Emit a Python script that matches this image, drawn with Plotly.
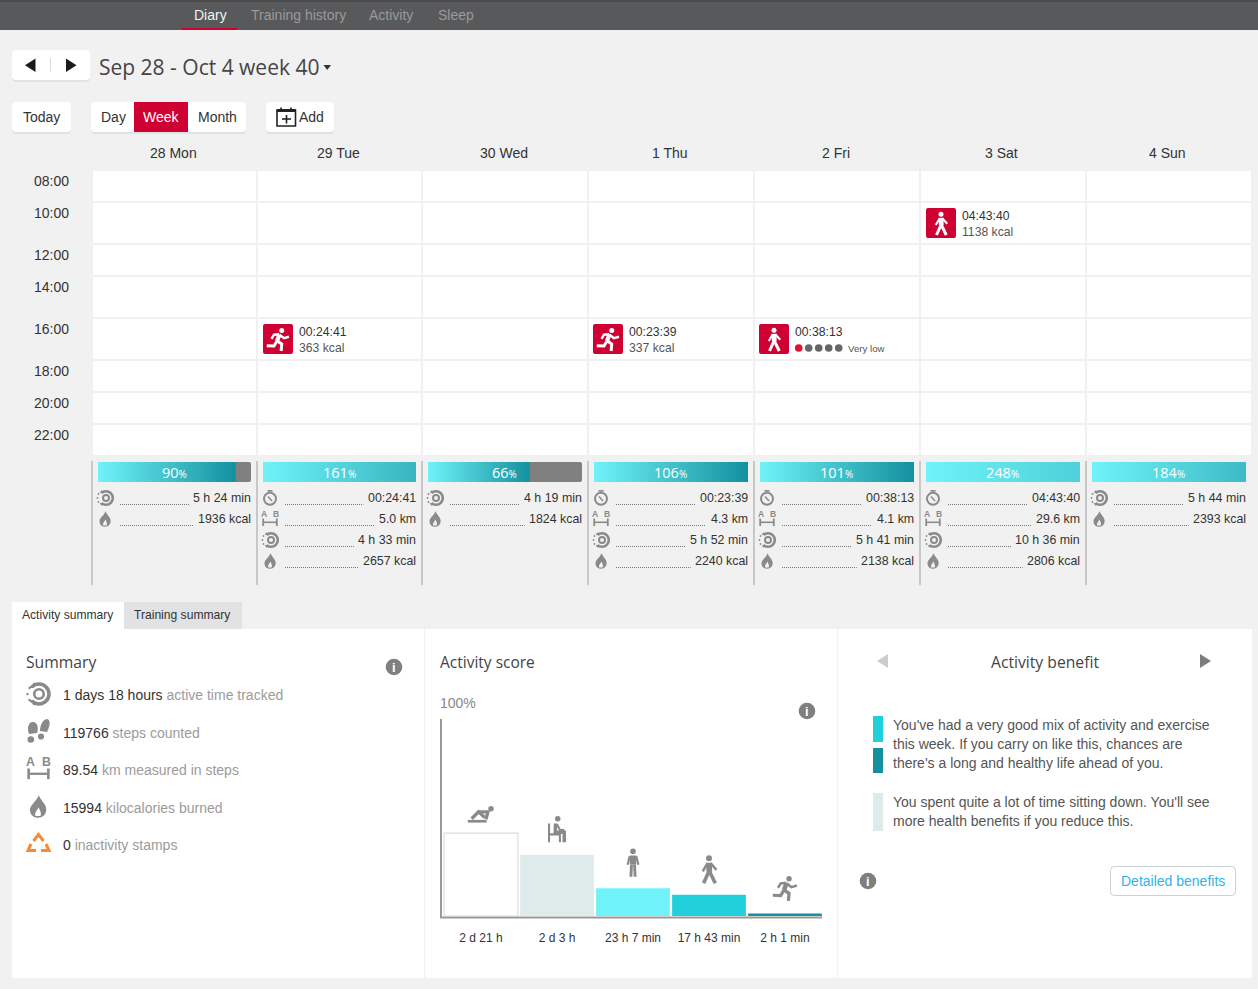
import plotly.graph_objects as go

# week data
day_labels = ['28 Mon', '29 Tue', '30 Wed', '1 Thu', '2 Fri', '3 Sat', '4 Sun']
time_labels = ['08:00', '10:00', '12:00', '14:00', '16:00', '18:00', '20:00', '22:00']
goal_percent = [90, 161, 66, 106, 101, 248, 184]

training_time = [None, '00:24:41', None, '00:23:39', '00:38:13', '04:43:40', None]
distance_km = [None, '5.0 km', None, '4.3 km', '4.1 km', '29.6 km', None]
active_time = ['5 h 24 min', '4 h 33 min', '4 h 19 min', '5 h 52 min', '5 h 41 min', '10 h 36 min', '5 h 44 min']
calories = ['1936 kcal', '2657 kcal', '1824 kcal', '2240 kcal', '2138 kcal', '2806 kcal', '2393 kcal']

event_days = [1, 3, 4, 5]
event_rows = [4, 4, 4, 1]
event_kinds = ['run', 'run', 'walk', 'walk']
event_times = ['00:24:41', '00:23:39', '00:38:13', '04:43:40']
event_details = ['363 kcal', '337 kcal', None, '1138 kcal']

# activity score, hours out of a 168 h week
score_labels = ['2 d 21 h', '2 d 3 h', '23 h 7 min', '17 h 43 min', '2 h 1 min']
score_hours = [69, 51, 23.12, 17.72, 2.02]
week_hours = 168

summary_values = ['1 days 18 hours', '119766', '89.54', '15994', '0']
summary_units = ['active time tracked', 'steps counted', 'km measured in steps', 'kilocalories burned', 'inactivity stamps']

benefit_lines = ["You've had a very good mix of activity and exercise", 'this week. If you carry on like this, chances are',
                 "there's a long and healthy life ahead of you."]
sitting_lines = ["You spent quite a lot of time sitting down. You'll see", 'more health benefits if you reduce this.']

W, H = 1258, 989
BG = '#f1f1f1'
RED = '#cf0032'
GREY = '#808080'
ICON = '#8a8a8a'
TEXT = '#333333'
ARIAL = 'Liberation Sans, Arial, sans-serif'
OPEN = 'Open Sans, sans-serif'
SCORE_COLORS = ['#ffffff', '#dfeaea', '#6ff3f9', '#22d0dc', '#14909e']
GAUGE_ENDS = ['#14909e', '#38b5c0', '#14909e', '#14909e', '#14909e', '#4fd0da', '#3cbbc7']
EVENT_INSET = [5, 4, 4, 5]

col_left = [93, 258, 423, 589, 755, 921, 1087]
col_right = [256, 421, 587, 753, 919, 1085, 1251]
row_top = [171, 203, 245, 277, 319, 361, 393, 425]
row_bottom = [201, 243, 275, 317, 359, 391, 423, 455]

shapes = []
notes = []


def rect(x0, y0, x1, y1, color, line=None, width=1):
    shapes.append(dict(type='rect', x0=x0, y0=y0, x1=x1, y1=y1, xref='x', yref='y', layer='below', fillcolor=color,
                       line=dict(color=line or color, width=width if line else 0)))


def rounded(x0, y0, x1, y1, color, r=3, line=None, width=1):
    d = (f'M {x0 + r},{y0} L {x1 - r},{y0} Q {x1},{y0} {x1},{y0 + r} L {x1},{y1 - r} Q {x1},{y1} {x1 - r},{y1} '
         f'L {x0 + r},{y1} Q {x0},{y1} {x0},{y1 - r} L {x0},{y0 + r} Q {x0},{y0} {x0 + r},{y0} Z')
    path(d, color, line, width)


def path(d, fill=None, line=None, width=1):
    shapes.append(dict(type='path', path=d, xref='x', yref='y', layer='below', fillcolor=fill or 'rgba(0,0,0,0)',
                       line=dict(color=line or 'rgba(0,0,0,0)', width=width if line else 0)))


def circle(cx, cy, r, fill=None, line=None, width=1, dash='solid'):
    shapes.append(dict(type='circle', x0=cx - r, y0=cy - r, x1=cx + r, y1=cy + r, xref='x', yref='y', layer='below',
                       fillcolor=fill or 'rgba(0,0,0,0)',
                       line=dict(color=line or 'rgba(0,0,0,0)', width=width if line else 0, dash=dash)))


def stroke(points, color, width):
    d = 'M ' + ' L '.join(f'{x},{y}' for x, y in points)
    path(d, None, color, width)


def label(x, y, text, size=12, color=TEXT, anchor='left', font=ARIAL):
    notes.append(dict(x=x, y=y, xref='x', yref='y', text=text, showarrow=False, xanchor=anchor, yanchor='middle',
                      borderpad=0, borderwidth=0, font=dict(size=size, color=color, family=font)))


def button(x0, y0, x1, y1):
    rounded(x0, y0 + 2, x1, y1 + 2, '#e2e2e2', 4)
    rounded(x0, y0, x1, y1, '#ffffff', 4)


def figure_icon(kind, cx, cy, s, color):
    pts = lambda items: [(cx + a * s, cy + b * s) for a, b in items]
    w = max(1.2, s * 0.24)
    if kind == 'run':
        circle(cx + 0.3 * s, cy - 0.72 * s, 0.2 * s, color)
        stroke(pts([(0.12, -0.4), (-0.08, 0.12)]), color, w * 1.4)
        stroke(pts([(-0.08, 0.1), (0.3, 0.36), (0.25, 0.92)]), color, w)
        stroke(pts([(-0.08, 0.12), (-0.32, 0.52), (-0.9, 0.5)]), color, w)
        stroke(pts([(0.12, -0.38), (0.48, -0.1), (0.88, -0.22)]), color, w * 0.8)
        stroke(pts([(0.1, -0.42), (-0.32, -0.38), (-0.52, -0.05)]), color, w * 0.8)
    elif kind == 'walk':
        circle(cx, cy - 0.75 * s, 0.2 * s, color)
        stroke(pts([(0, -0.45), (0.02, 0.15)]), color, w * 1.6)
        stroke(pts([(0, 0.12), (-0.36, 0.92)]), color, w)
        stroke(pts([(0.03, 0.12), (0.42, 0.92)]), color, w)
        stroke(pts([(-0.1, -0.42), (-0.42, 0.12)]), color, w * 0.7)
        stroke(pts([(0.1, -0.42), (0.5, 0.02)]), color, w * 0.7)
    elif kind == 'stand':
        circle(cx, cy - 0.78 * s, 0.19 * s, color)
        stroke(pts([(0, -0.5), (0, 0.1)]), color, w * 1.8)
        stroke(pts([(-0.1, 0.1), (-0.14, 0.92)]), color, w * 0.8)
        stroke(pts([(0.1, 0.1), (0.14, 0.92)]), color, w * 0.8)
        stroke(pts([(-0.22, -0.45), (-0.36, 0.12)]), color, w * 0.6)
        stroke(pts([(0.22, -0.45), (0.36, 0.12)]), color, w * 0.6)
    elif kind == 'sit':
        circle(cx + 0.05 * s, cy - 0.78 * s, 0.19 * s, color)
        stroke(pts([(-0.55, -0.45), (-0.55, 0.85)]), color, w * 0.6)
        stroke(pts([(-0.55, 0.3), (0.2, 0.3), (0.2, 0.85)]), color, w * 0.6)
        stroke(pts([(-0.1, -0.45), (-0.12, 0.15), (0.5, 0.15), (0.5, 0.85)]), color, w)
        stroke(pts([(0, -0.4), (0.2, 0), (0.5, 0)]), color, w * 0.6)
    else:
        circle(cx + 0.8 * s, cy - 0.5 * s, 0.22 * s, color)
        stroke(pts([(-1.05, 0.5), (0.45, 0.5)]), color, w * 0.9)
        stroke(pts([(-0.75, 0.3), (-0.2, -0.25), (0.3, 0.2)]), color, w * 1.1)
        stroke(pts([(-0.2, -0.25), (0.55, -0.25), (0.4, 0.35)]), color, w * 1.1)


def ring_icon(cx, cy, color=ICON):
    circle(cx + 1, cy, 6.8, None, color, 2.6)
    circle(cx + 1, cy, 3, None, color, 2)
    rect(cx - 8, cy - 5, cx - 3, cy + 5, BG)
    for dx, dy in [(-6.5, -4), (-7.5, 0), (-6.5, 4), (-3.5, -6.5), (-3.5, 6.5)]:
        circle(cx + dx, cy + dy, 0.9, color)


def watch_icon(cx, cy):
    circle(cx, cy + 0.7, 6, None, ICON, 2)
    rect(cx - 2.5, cy - 8, cx + 2.5, cy - 6.3, ICON)
    stroke([(cx - 2, cy - 1.5), (cx + 2, cy + 3)], ICON, 1.5)


def ab_icon(cx, cy, s=1.0):
    label(cx - 5.8 * s, cy - 5 * s, '<b>A</b>', 8.5 * s, ICON, 'center')
    label(cx + 5.8 * s, cy - 5 * s, '<b>B</b>', 8.5 * s, ICON, 'center')
    stroke([(cx - 6.8 * s, cy - 0.5), (cx - 6.8 * s, cy + 7 * s)], ICON, 1.8 * s)
    stroke([(cx + 6.8 * s, cy - 0.5), (cx + 6.8 * s, cy + 7 * s)], ICON, 1.8 * s)
    stroke([(cx - 6 * s, cy + 3.3 * s), (cx + 6 * s, cy + 3.3 * s)], ICON, 1.6 * s)


def flame_icon(cx, cy, s=1.1, inner=BG):
    path(f'M {cx + 0.5 * s},{cy - 7 * s} C {cx + 2 * s},{cy - 3 * s} {cx + 6 * s},{cy - 1 * s} {cx + 5 * s},{cy + 3 * s} '
         f'C {cx + 4.5 * s},{cy + 6 * s} {cx + 2 * s},{cy + 7 * s} {cx},{cy + 7 * s} '
         f'C {cx - 3 * s},{cy + 7 * s} {cx - 5 * s},{cy + 5 * s} {cx - 5 * s},{cy + 2 * s} '
         f'C {cx - 5 * s},{cy - 1 * s} {cx - 1 * s},{cy - 3 * s} {cx + 0.5 * s},{cy - 7 * s} Z', ICON)
    path(f'M {cx + 0.5 * s},{cy + 0.5 * s} C {cx + 1 * s},{cy + 2.5 * s} {cx + 2.5 * s},{cy + 4 * s} {cx + 1.5 * s},{cy + 6 * s} '
         f'L {cx - 1.5 * s},{cy + 6 * s} C {cx - 2.5 * s},{cy + 4 * s} {cx - 0.5 * s},{cy + 2.5 * s} {cx + 0.5 * s},{cy + 0.5 * s} Z', inner)


def info_icon(cx, cy):
    circle(cx, cy, 8.3, '#7f7f7f')
    label(cx, cy, '<b>i</b>', 13, '#ffffff', 'center')


def text_width(s):
    widths = {' ': 3.33, ':': 3.33, '.': 3.33, 'k': 6, 'c': 6, 'a': 6.67, 'l': 2.67, 'm': 10, 'i': 2.67, 'n': 6.67, 'h': 6.67}
    return sum(widths.get(ch, 6.67) for ch in s)


# header
rect(0, 0, W, 30, '#58595b')
rect(0, 0, W, 2, '#4a4a4c')
rect(182, 28, 237, 30, RED)
label(210, 15, 'Diary', 14, '#f2f2f2', 'center')
label(298, 15, 'Training history', 14, '#9a9a9a', 'center')
label(391, 15, 'Activity', 14, '#9a9a9a', 'center')
label(456, 15, 'Sleep', 14, '#9a9a9a', 'center')

# week selector and view buttons
button(12, 50, 90, 80)
path('M 35.5,58.5 L 35.5,72 L 25,65.2 Z', '#1a1a1a')
path('M 66,58.5 L 66,72 L 76.5,65.2 Z', '#1a1a1a')
rect(50, 58, 51, 72, '#dddddd')
label(98.5, 66.5, 'Sep 28 - Oct 4 week 40', 21, '#444444', font=OPEN)
path('M 323.5,65 L 331,65 L 327.2,70 Z', '#333333')
button(12, 102, 71, 132)
label(41.5, 117, 'Today', 14, TEXT, 'center')
button(91, 102, 246, 132)
rect(134, 102, 188, 132, RED)
label(113, 117, 'Day', 14, TEXT, 'center')
label(161.5, 117, 'Week', 14, '#ffffff', 'center')
label(217, 117, 'Month', 14, TEXT, 'center')
button(266, 102, 334, 132)
rect(277, 110, 295.5, 126, '#ffffff', '#222222', 1.6)
rect(277, 109, 295.5, 112, '#222222')
stroke([(281, 107.5), (281, 111)], '#222222', 1.6)
stroke([(291, 107.5), (291, 111)], '#222222', 1.6)
stroke([(282, 119), (291, 119)], '#222222', 1.6)
stroke([(286.5, 115), (286.5, 123.5)], '#222222', 1.6)
label(299, 117, 'Add', 14, TEXT)

# calendar grid
for top, bottom, name in zip(row_top, row_bottom, time_labels):
    label(69, top + 10, name, 14, TEXT, 'right')
    for left, right in zip(col_left, col_right):
        rect(left, top, right, bottom, '#ffffff')
for left, right, name in zip(col_left, col_right, day_labels):
    label((left + right) / 2 - 1.5, 153, name, 14, TEXT, 'center')

for day, row, kind, time_text, detail, inset in zip(event_days, event_rows, event_kinds, event_times, event_details, EVENT_INSET):
    x = col_left[day] + inset
    y = row_top[row] + 5
    rounded(x, y, x + 30, y + 30, RED, 2)
    figure_icon(kind, x + 15, y + 15.5, 12.5, '#ffffff')
    label(x + 36, y + 8, time_text, 12.2, TEXT)
    if detail is not None:
        label(x + 36, y + 24, detail, 12.2, '#555555')
    else:
        for i in range(5):
            circle(x + 39.7 + i * 10, y + 24, 3.8, '#e0102f' if i == 0 else '#666666')
        label(x + 89, y + 24.5, 'Very low', 9.7, '#555555')

# daily stats under the calendar
for i, left in enumerate(col_left):
    rect(left - 2, 461, left, 585, '#c8c8c8')
    right = col_right[i] - 5
    row_y = 498
    rows = [('watch', training_time[i]), ('ab', distance_km[i]), ('ring', active_time[i]), ('flame', calories[i])]
    for kind, value in rows:
        if value is None:
            continue
        cx = left + 12
        if kind == 'watch':
            watch_icon(cx, row_y)
        elif kind == 'ab':
            ab_icon(cx, row_y)
        elif kind == 'ring':
            ring_icon(cx, row_y)
        else:
            flame_icon(cx, row_y)
        end = right - text_width(value) - 6
        shapes.append(dict(type='line', x0=left + 27, x1=end, y0=row_y + 6.5, y1=row_y + 6.5, xref='x', yref='y', layer='below',
                           line=dict(color='#777777', width=1, dash='1px,1px')))
        label(right, row_y, value, 12.4, TEXT, 'right')
        row_y += 21

# lower panels
rect(12, 602, 124, 630, '#ffffff')
rect(124, 602, 242, 629, '#e0e2e3')
label(22, 615, 'Activity summary', 12.1, TEXT)
label(134, 615, 'Training summary', 12.1, TEXT)
rect(12, 629, 424, 978, '#ffffff')
rect(425, 629, 837, 978, '#ffffff')
rect(838, 629, 1252, 978, '#ffffff')

label(26, 662, 'Summary', 15.7, '#444444', font=OPEN)
info_icon(394, 667)
summary_y = [695, 733, 770, 808, 845]
for y, value, unit in zip(summary_y, summary_values, summary_units):
    label(63, y, f'{value} <span style="color:#9b9b9b">{unit}</span>', 14, TEXT)

# summary icons
circle(39, 694, 10, None, ICON, 3.6)
circle(39, 694, 4.8, None, ICON, 2.6)
rect(26, 688, 33, 700, '#ffffff')
for dx, dy in [(-9.5, -6), (-11.5, 0), (-9.5, 6), (-5, -10), (-5, 10)]:
    circle(39 + dx, 694 + dy, 1.2, ICON)
path('M 32,722 C 37,721 39,727 37,733 L 29,734 C 27,729 28,723 32,722 Z', ICON)
circle(30.8, 739.5, 3.3, ICON)
path('M 47,719 C 51,720 50,726 47,732 L 40,731 C 40,726 42,720 47,719 Z', ICON)
circle(41, 736.5, 3.1, ICON)
ab_icon(38.5, 769, 1.45)
flame_icon(38, 806.5, 1.6, '#ffffff')
stroke([(33.5, 841), (38.5, 834.5), (43.5, 841)], '#f98a35', 3)
stroke([(31, 844), (28, 850.5), (36, 850.5)], '#f98a35', 3)
stroke([(41, 850.5), (49, 850.5), (46, 844)], '#f98a35', 3)

label(440, 662, 'Activity score', 15.5, '#444444', font=OPEN)
label(440, 703, '100%', 14, '#888888')
info_icon(807, 711)
figure_icon('rest', 481, 815, 12.5, ICON)
figure_icon('sit', 557, 830, 14.5, ICON)
figure_icon('stand', 633, 863, 15, ICON)
figure_icon('walk', 709, 869.5, 15, ICON)
figure_icon('run', 785, 888.5, 13.5, ICON)

path('M 888,654 L 888,668 L 877,661 Z', '#cccccc')
path('M 1200,654 L 1200,668 L 1211,661 Z', '#7d7d7d')
label(1045, 662, 'Activity benefit', 15.7, '#444444', 'center', OPEN)
rect(873, 716, 883, 742, '#22d0dc')
rect(873, 748, 883, 773, '#14909e')
rect(873, 793, 883, 831, '#dfeaea')
for y, line in zip([725, 744, 763], benefit_lines):
    label(893, y, line, 14, '#555555')
for y, line in zip([802, 821], sitting_lines):
    label(893, y, line, 14, '#555555')
info_icon(868, 881)
rounded(1110.5, 866.5, 1235.5, 895.5, '#ffffff', 4, '#c9d3d6', 1)
label(1173, 881, 'Detailed benefits', 14, '#2fb4e9', 'center')

fig = go.Figure()
# page axes carry the shapes and labels, one unit is one pixel
fig.add_trace(go.Scatter(x=[], y=[], xaxis='x', yaxis='y', hoverinfo='skip', showlegend=False))

fig.add_trace(go.Bar(x=score_labels, y=score_hours, xaxis='x2', yaxis='y2', showlegend=False, width=0.97,
                     marker=dict(color=SCORE_COLORS, line=dict(color=['#dddddd', '#dfeaea', '#6ff3f9', '#22d0dc', '#14909e'],
                                                               width=[1.2, 0, 0, 0, 0]))))

axes = dict(
    xaxis=dict(domain=[0, 1], range=[0, W], visible=False, fixedrange=True),
    yaxis=dict(domain=[0, 1], range=[H, 0], visible=False, fixedrange=True),
    xaxis2=dict(domain=[443 / W, 823 / W], anchor='y2', type='category', categoryorder='array', categoryarray=score_labels,
                range=[-0.5, 4.5], showgrid=False, showline=False, ticks='', ticklabelstandoff=13, fixedrange=True,
                tickfont=dict(size=12, color=TEXT, family=ARIAL)),
    yaxis2=dict(domain=[1 - 916 / H, 1 - 714 / H], anchor='x2', range=[0, week_hours], showgrid=False, zeroline=False,
                showticklabels=False, ticks='', fixedrange=True),
)
rect(440, 719, 442, 918, '#999999')
rect(440, 916.5, 822, 918.5, '#999999')

# one small pair of axes per day gauge
for i, pct in enumerate(goal_percent):
    n = i + 3
    left = col_left[i] + 5
    right = col_right[i] - 5
    top_end = max(100, pct)
    axes[f'xaxis{n}'] = dict(domain=[left / W, right / W], range=[0, top_end], visible=False, fixedrange=True, anchor=f'y{n}')
    axes[f'yaxis{n}'] = dict(domain=[1 - 482 / H, 1 - 462 / H], range=[-0.5, 0.5], visible=False, fixedrange=True, anchor=f'x{n}')
    fig.add_trace(go.Bar(x=[top_end], y=[0], orientation='h', width=1, xaxis=f'x{n}', yaxis=f'y{n}', showlegend=False,
                         marker=dict(color=GREY, cornerradius=2, line=dict(width=0))))
    fig.add_trace(go.Scatter(x=[0, pct, pct, 0, 0], y=[-0.5, -0.5, 0.5, 0.5, -0.5], xaxis=f'x{n}', yaxis=f'y{n}', mode='lines',
                             line=dict(width=0), fill='toself', showlegend=False, hoverinfo='skip',
                             fillgradient=dict(type='horizontal', start=0, stop=pct,
                                               colorscale=[[0, '#6ff3f9'], [1, GAUGE_ENDS[i]]])))
    label((left + right) / 2 - 0.5, 472.5, f'{pct}<span style="font-size:10px">%</span>', 14.5, '#ffffff', 'center', OPEN)

fig.update_layout(width=W, height=H, margin=dict(l=0, r=0, t=0, b=0), paper_bgcolor=BG, plot_bgcolor='rgba(0,0,0,0)',
                  shapes=shapes, annotations=notes, dragmode=False, **axes)

fig.write_html('out.html', config=dict(displayModeBar=False), post_script="document.body.style.margin='0';")
